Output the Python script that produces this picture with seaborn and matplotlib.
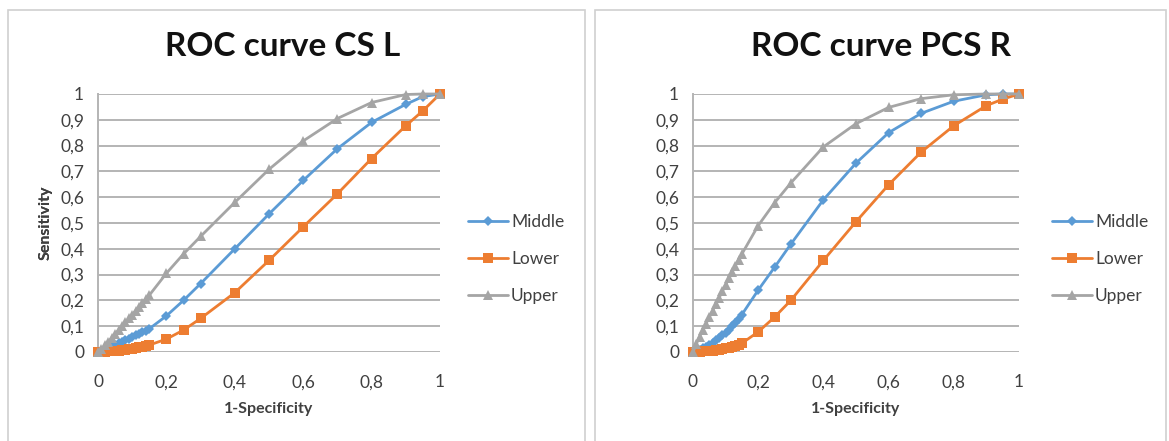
import pandas as pd
import seaborn as sns
import matplotlib.pyplot as plt
from matplotlib.patches import Rectangle
from matplotlib.ticker import FuncFormatter

# shared 1-specificity values
fpr = [0, 0.01, 0.02, 0.03, 0.04, 0.05, 0.06, 0.07, 0.08, 0.09, 0.10, 0.11, 0.12, 0.13, 0.14, 0.15,
       0.2, 0.25, 0.3, 0.4, 0.5, 0.6, 0.7, 0.8, 0.9, 0.95, 1]

# ROC curve CS L
csl_middle = [0, 0.005, 0.01, 0.016, 0.022, 0.028, 0.034, 0.04, 0.046, 0.052, 0.058, 0.064, 0.07, 0.077, 0.083, 0.09,
              0.14, 0.20, 0.265, 0.40, 0.535, 0.665, 0.788, 0.89, 0.96, 0.99, 1]
csl_lower = [0, 0.0, 0.001, 0.002, 0.003, 0.004, 0.005, 0.006, 0.008, 0.01, 0.012, 0.015, 0.018, 0.021, 0.024, 0.027,
             0.05, 0.085, 0.13, 0.23, 0.355, 0.485, 0.613, 0.75, 0.877, 0.935, 1]
csl_upper = [0, 0.012, 0.026, 0.04, 0.055, 0.07, 0.085, 0.1, 0.115, 0.13, 0.145, 0.16, 0.175, 0.19, 0.205, 0.22,
             0.305, 0.38, 0.448, 0.58, 0.708, 0.818, 0.905, 0.967, 0.998, 1, 1]

# ROC curve PCS R
pcsr_middle = [0, 0.004, 0.009, 0.015, 0.021, 0.028, 0.036, 0.045, 0.054, 0.064, 0.075, 0.087, 0.1, 0.113, 0.128, 0.145,
               0.24, 0.328, 0.418, 0.59, 0.732, 0.85, 0.925, 0.972, 0.997, 1, 1]
pcsr_lower = [0, 0.0, 0.001, 0.002, 0.003, 0.004, 0.005, 0.007, 0.009, 0.011, 0.014, 0.017, 0.021, 0.025, 0.029, 0.034,
              0.078, 0.135, 0.2, 0.355, 0.505, 0.648, 0.775, 0.877, 0.955, 0.98, 1]
pcsr_upper = [0, 0.03, 0.06, 0.085, 0.11, 0.135, 0.16, 0.185, 0.21, 0.235, 0.26, 0.285, 0.31, 0.335, 0.358, 0.38,
              0.49, 0.578, 0.655, 0.795, 0.885, 0.948, 0.982, 0.997, 1, 1, 1]

series = ["Middle", "Lower", "Upper"]
colors = {"Middle": "#5B9BD5", "Lower": "#ED7D31", "Upper": "#A5A5A5"}
markers = {"Middle": "D", "Lower": "s", "Upper": "^"}
msizes = {"Middle": 5.5, "Lower": 7.5, "Upper": 7.5}

sns.set_theme(style="white")
plt.rcParams["font.family"] = ["Lato", "DejaVu Sans"]

W, H = 1169, 441
fig = plt.figure(figsize=(W / 100, H / 100), dpi=100)

# panel frames
for x0, x1 in [(8, 585), (595, 1166)]:
    fig.patches.append(Rectangle((x0 / W, -0.01), (x1 - x0) / W, 1 - 10 / H + 0.01,
                                 transform=fig.transFigure, fill=False,
                                 edgecolor="#d0d0d0", linewidth=1.2))

panels = [
    ("ROC curve CS L", [98, 440], 283, {"Middle": csl_middle, "Lower": csl_lower, "Upper": csl_upper}, 452),
    ("ROC curve PCS R", [693, 1019], 881, {"Middle": pcsr_middle, "Lower": pcsr_lower, "Upper": pcsr_upper}, 1036),
]

comma = FuncFormatter(lambda v, p: ("%g" % round(v, 1)).replace(".", ","))
grid_c = "#B4B4B4"
txt_c = "#404040"

for title, (px0, px1), tx, vals, legx in panels:
    ax = fig.add_axes([px0 / W, (H - 352) / H, (px1 - px0) / W, 258 / H])
    rows = []
    for s in series:
        for xv, yv in zip(fpr, vals[s]):
            rows.append({"x": xv, "y": yv, "series": s})
    df = pd.DataFrame(rows)
    for s in series:
        sns.lineplot(data=df[df.series == s], x="x", y="y", ax=ax, color=colors[s],
                     marker=markers[s], markersize=msizes[s], markeredgewidth=0,
                     linewidth=2, label=s, clip_on=False, sort=False, zorder=3)
    ax.set_xlim(0, 1)
    ax.set_ylim(0, 1)
    ax.set_xticks([0, 0.2, 0.4, 0.6, 0.8, 1])
    ax.set_yticks([i / 10 for i in range(11)])
    ax.xaxis.set_major_formatter(comma)
    ax.yaxis.set_major_formatter(comma)
    ax.grid(axis="y", color=grid_c, linewidth=1.4)
    ax.grid(axis="x", visible=False)
    for sp in ["top", "right", "bottom"]:
        ax.spines[sp].set_visible(False)
    ax.spines["left"].set_color(grid_c)
    ax.spines["left"].set_linewidth(1.4)
    ax.tick_params(axis="both", length=0, labelsize=12.5, labelcolor=txt_c)
    ax.tick_params(axis="y", pad=10)
    ax.tick_params(axis="x", pad=16)
    ax.set_xlabel("1-Specificity", fontsize=11.5, fontweight="bold", color=txt_c)
    ax.set_ylabel("Sensitivity", fontsize=11.5, fontweight="bold", color=txt_c)
    ax.xaxis.set_label_coords(0.5, (352 - 402) / 258)
    ax.yaxis.set_label_coords((53 - px0) / (px1 - px0), 0.5)
    ax.get_legend().remove()
    handles, labels = ax.get_legend_handles_labels()
    fig.legend(handles, labels, loc="center left", bbox_to_anchor=(legx / W, 1 - 259 / H),
               frameon=False, fontsize=12.5, labelcolor=txt_c, handlelength=2.3,
               handletextpad=0.2, labelspacing=1.2)
    fig.text(tx / W, 1 - 47 / H, title, ha="center", va="center", fontsize=24,
             fontweight="bold", color="#111111")

fig.savefig("out.png", dpi=100)
